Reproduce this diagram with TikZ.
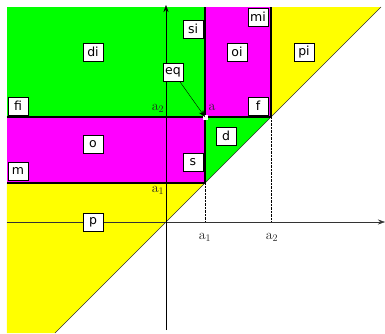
\documentclass[tikz,border=0pt]{standalone}
\usepackage{fontspec}
\newfontfamily\boxfont{DejaVu Sans}
\usepackage{tikz}
\usetikzlibrary{arrows.meta,shadows}
\definecolor{zgreen}{RGB}{0,255,0}
\definecolor{zmagenta}{RGB}{255,0,255}
\definecolor{zyellow}{RGB}{255,255,0}
\begin{document}
\begin{tikzpicture}[x=1pt, y=1pt,
  box/.style={draw, fill=white, font=\boxfont\fontsize{12.5}{14}\selectfont,
              minimum width=20pt, minimum height=18pt, inner sep=1pt,
              drop shadow={shadow xshift=1pt, shadow yshift=-1pt, fill=black!45, opacity=1}},
  lbl/.style={font=\fontsize{14}{16}\selectfont, text=black!85, inner sep=1pt},
  bound/.style={line width=2.8pt},
  >={Stealth[length=7pt, width=5pt]}]
\useasboundingbox (-166,-111) rectangle (219,222);
\fill[zgreen] (-159,105) rectangle (39,215);
\fill[zmagenta] (39,105) rectangle (105,215);
\fill[zyellow] (105,215) -- (215,215) -- (105,105) -- cycle;
\fill[zmagenta] (-159,39) rectangle (39,105);
\fill[zgreen] (39,105) -- (105,105) -- (39,39) -- cycle;
\fill[zyellow] (-159,39) -- (39,39) -- (-111,-111) -- (-159,-111) -- cycle;
\draw[densely dotted] (39,39) -- (39,0);
\draw[densely dotted] (105,105) -- (105,0);
\draw[black!80] (-111,-111) -- (215,215);
\draw[->, black!80] (-159,0) -- (219,0);
\draw[->] (0,-108) -- (0,217);
\draw[bound] (-159,105) -- (105,105);
\draw[bound] (-159,39) -- (39,39);
\draw[bound] (39,215) -- (39,39);
\draw[bound] (105,215) -- (105,105);
\fill[white] (36.5,102.5) rectangle (41.5,107.5);
\coordinate (apt) at (39,105);
\node[lbl] (la) at (46,115) {$\mathrm{a}$};
\node[lbl] (ly2) at (-8,114) {$\mathrm{a}_2$};
\node[lbl] (ly1) at (-8,32) {$\mathrm{a}_1$};
\node[lbl] (lx1) at (39,-15) {$\mathrm{a}_1$};
\node[lbl] (lx2) at (106,-15) {$\mathrm{a}_2$};
\node[box] (si) at (27,193) {si};
\node[box] (mi) at (92,205) {mi};
\node[box] (oi) at (71,170) {oi};
\node[box] (pi) at (138,170) {pi};
\node[box] (eq) at (7,150) {eq};
\node[box] (f) at (92,116) {f};
\node[box] (d) at (60,86) {d};
\node[box] (s) at (27,60) {s};
\node[box] (di) at (-73,170) {di};
\node[box] (fi) at (-148,116) {fi};
\node[box] (o) at (-73,78) {o};
\node[box] (m) at (-148,51) {m};
\node[box] (p) at (-73,0) {p};
\draw[->] (eq) -- (apt);
\end{tikzpicture}
\end{document}
